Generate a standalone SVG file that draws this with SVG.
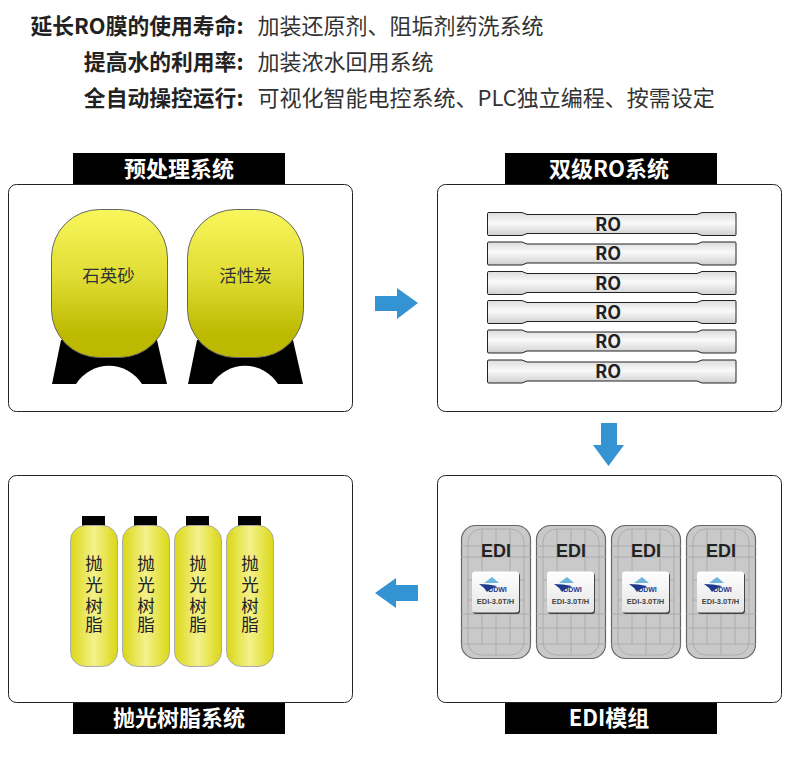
<svg xmlns="http://www.w3.org/2000/svg" xmlns:xlink="http://www.w3.org/1999/xlink" width="790" height="769" viewBox="0 0 790 769">
<style>
text{font-family:"Noto Sans CJK SC","Noto Sans",sans-serif}
.h{font-size:21.800px;font-weight:700;fill:#222;text-anchor:end}
.b{font-size:22px;fill:#333}
.panel{fill:#fff;stroke:#222;stroke-width:1}
.tab{fill:#000}
.tt{font-size:22px;font-weight:700;fill:#fff;text-anchor:middle}
.arrow{fill:#3493d2}
.lab{font-size:17.500px;fill:#333;text-anchor:middle}
.ro{font-size:18px;font-weight:700;fill:#222;text-anchor:middle}
.v{font-size:17.500px;fill:#222;text-anchor:middle}
.grid{stroke:#a6a6a6;stroke-width:.8;fill:none}
.edi{font-family:"Liberation Sans",Arial,sans-serif}
</style>
<defs>
<linearGradient id="tank" x1="0" y1="0" x2="0" y2="1"><stop offset="0" stop-color="#f9f65c"/><stop offset=".45" stop-color="#e0dd34"/><stop offset=".85" stop-color="#bdb900"/><stop offset="1" stop-color="#bdb900"/></linearGradient>
<linearGradient id="resin" x1="0" y1="0" x2="1" y2="0"><stop offset="0" stop-color="#dad814"/><stop offset=".5" stop-color="#f4f18c"/><stop offset="1" stop-color="#dad814"/></linearGradient>
<linearGradient id="tube" x1="0" y1="0" x2="0" y2="1"><stop offset="0" stop-color="#dcdcdc"/><stop offset=".45" stop-color="#fafafa"/><stop offset="1" stop-color="#d0d0d0"/></linearGradient>
<linearGradient id="plate" x1="0" y1="0" x2="0" y2="1"><stop offset="0" stop-color="#fff"/><stop offset="1" stop-color="#e4e4e4"/></linearGradient>
<g id="tube-shape"><path d="M489 0H522L527 2H697L702 0H735Q736 0 736 1V22Q736 23 735 23H702L697 21H527L522 23H489Q487.500 23 487.500 22V1Q487.500 0 489 0Z" fill="url(#tube)" stroke="#222" stroke-width="1"/></g>
<g id="edi-unit">
<rect x="461.500" y="525.500" width="69" height="133" rx="14" fill="#c9c9c9" stroke="#666" stroke-width="1.200"/>
<rect x="468" y="529" width="56" height="126" rx="13" class="grid"/>
<path class="grid" d="M461 546H531M461 557H531M461 614H531M461 628H531M461 644H531M468 580H472M519 580H524M468 600H472M519 600H524M482 529V571M496 529V546M510 529V571M482 613V644M496 613V644M510 613V644M496 644V655"/>
<text class="edi" x="496" y="557" font-size="18" font-weight="700" fill="#222" text-anchor="middle">EDI</text>
<rect x="473" y="573" width="47" height="41" rx="3" fill="#444"/>
<rect x="472" y="571.500" width="47" height="41" rx="3" fill="url(#plate)"/>
<path d="M484 583L492 577L499 583Z" fill="#6db6e0"/>
<path d="M479 584Q488 584 497 586Q490 589 487 592Q484 587 479 584Z" fill="#1f3a8a"/>
<text class="edi" x="497.500" y="591.500" font-size="7" font-weight="700" fill="#1f3a8a" text-anchor="middle">DDWI</text>
<text class="edi" x="495.500" y="604" font-size="7.500" font-weight="700" fill="#444" text-anchor="middle">EDI-3.0T/H</text>
</g>
<g id="resin-unit">
<rect x="82" y="516" width="23" height="11" fill="#000"/>
<rect x="70.500" y="525.500" width="47" height="141" rx="15" fill="url(#resin)" stroke="#aaa" stroke-width="1"/>
<text class="v" x="94" y="570">抛</text><text class="v" x="94" y="591">光</text><text class="v" x="94" y="612">树</text><text class="v" x="94" y="631">脂</text>
</g>
</defs>

<g id="intro">
<text class="h" x="243.500" y="34">延长RO膜的使用寿命:</text><text class="b" x="257.500" y="34">加装还原剂、阻垢剂药洗系统</text>
<text class="h" x="243.500" y="70">提高水的利用率:</text><text class="b" x="257.500" y="70">加装浓水回用系统</text>
<text class="h" x="243.500" y="106">全自动操控运行:</text><text class="b" x="257.500" y="106">可视化智能电控系统、PLC独立编程、按需设定</text>
</g>

<g id="connectors">
<path class="arrow" d="M375 296H397V288L418 303L397 319V311H375Z"/>
<path class="arrow" d="M601 423H617V445H624L608.500 466L593 445H601Z"/>
<path class="arrow" d="M418 585H396V578L375 593L396 608V601H418Z"/>
</g>

<g id="pretreatment">
<rect class="panel" x="8.500" y="184.500" width="344" height="227" rx="8"/>
<rect class="tab" x="73" y="153" width="212" height="31"/>
<text class="tt" x="179" y="177">预处理系统</text>
<path d="M61 340L52 384H167L157 340Z" fill="#000"/>
<path d="M76 384A39 39 0 0 1 142 384Z" fill="#fff"/>
<rect x="51.500" y="209.500" width="116" height="148" rx="48" fill="url(#tank)" stroke="#666" stroke-width="1"/>
<text class="lab" x="108.500" y="282">石英砂</text>
<path d="M197 340L188 384H303L293 340Z" fill="#000"/>
<path d="M212 384A39 39 0 0 1 278 384Z" fill="#fff"/>
<rect x="187.500" y="209.500" width="116" height="148" rx="48" fill="url(#tank)" stroke="#666" stroke-width="1"/>
<text class="lab" x="245.500" y="282">活性炭</text>
</g>

<g id="ro-system">
<rect class="panel" x="437.500" y="184.500" width="344" height="227" rx="8"/>
<rect class="tab" x="505" y="153" width="212" height="31"/>
<text class="tt" x="609" y="177">双级RO系统</text>
<use xlink:href="#tube-shape" y="212.500"/><text class="ro" x="608" y="231">RO</text>
<use xlink:href="#tube-shape" y="242"/><text class="ro" x="608" y="260">RO</text>
<use xlink:href="#tube-shape" y="271.500"/><text class="ro" x="608" y="290">RO</text>
<use xlink:href="#tube-shape" y="300.500"/><text class="ro" x="608" y="319">RO</text>
<use xlink:href="#tube-shape" y="330"/><text class="ro" x="608" y="348">RO</text>
<use xlink:href="#tube-shape" y="360"/><text class="ro" x="608" y="378">RO</text>
</g>

<g id="edi-module">
<rect class="panel" x="437.500" y="475.500" width="344" height="227" rx="8"/>
<rect class="tab" x="505" y="703" width="212" height="31"/>
<text class="tt" x="609" y="726">EDI模组</text>
<use xlink:href="#edi-unit"/>
<use xlink:href="#edi-unit" x="75"/>
<use xlink:href="#edi-unit" x="150"/>
<use xlink:href="#edi-unit" x="225"/>
</g>

<g id="polishing-resin">
<rect class="panel" x="8.500" y="475.500" width="344" height="227" rx="8"/>
<rect class="tab" x="73" y="703" width="212" height="31"/>
<text class="tt" x="179" y="726">抛光树脂系统</text>
<use xlink:href="#resin-unit"/>
<use xlink:href="#resin-unit" x="52"/>
<use xlink:href="#resin-unit" x="104"/>
<use xlink:href="#resin-unit" x="156"/>
</g>
</svg>
